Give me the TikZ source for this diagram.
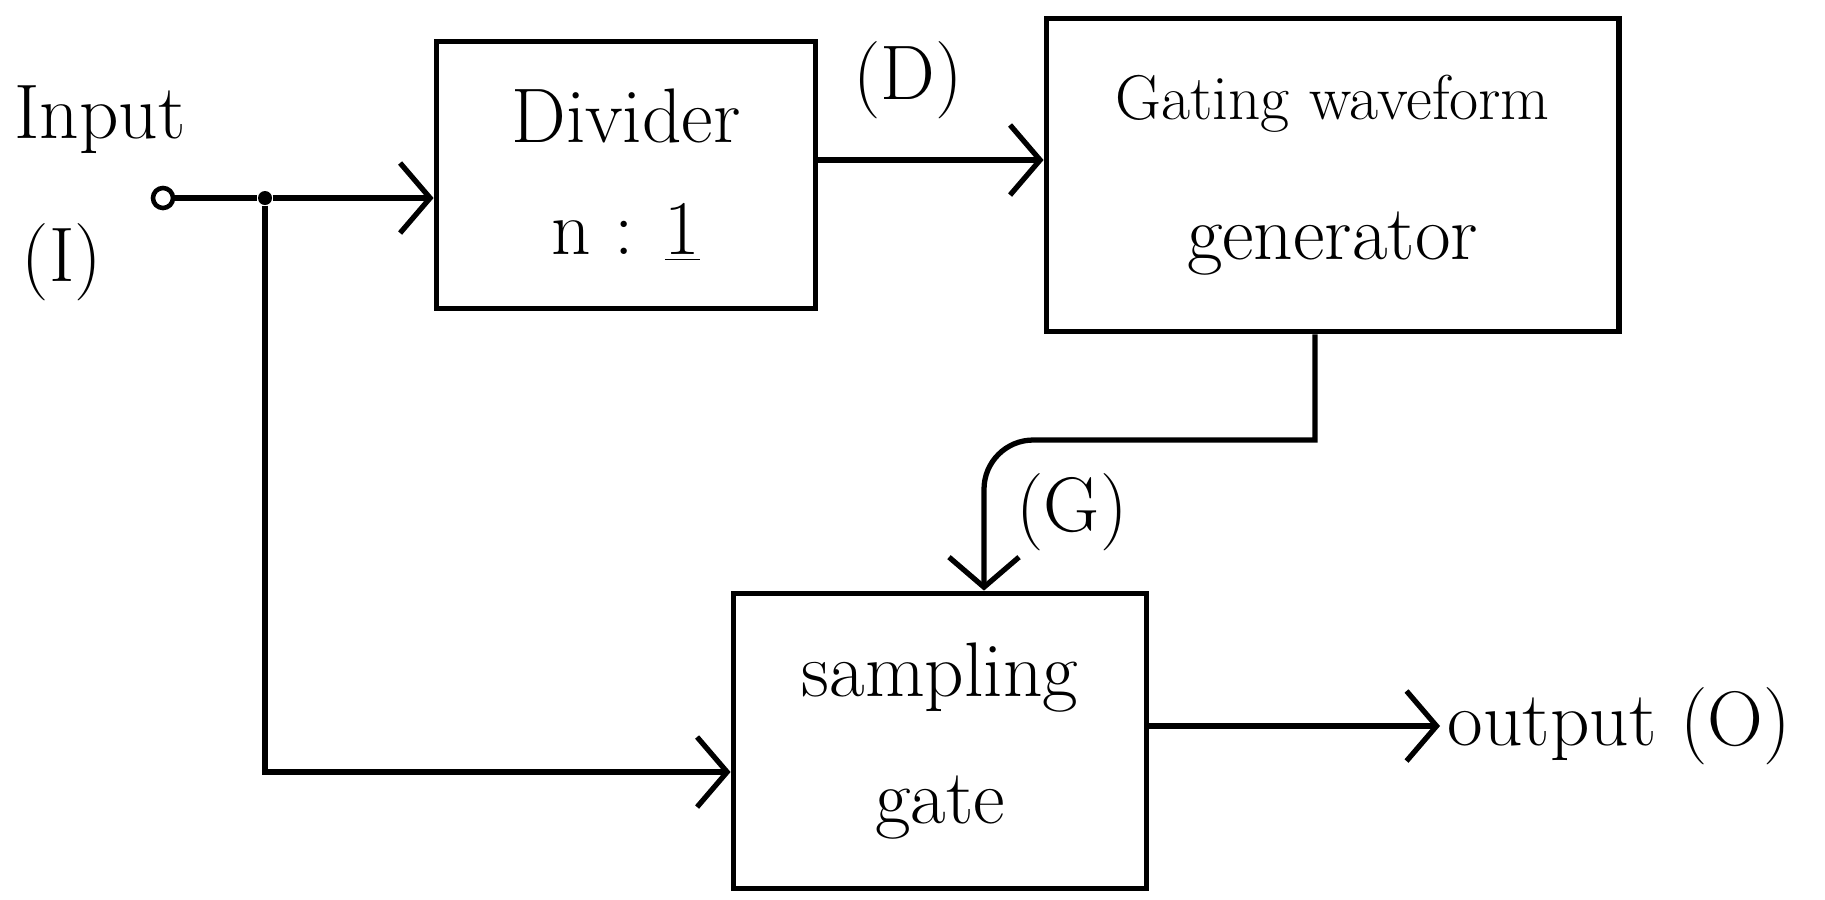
\documentclass[tikz,border=0pt]{standalone}
\usepackage{tikz}
\usetikzlibrary{positioning,arrows.meta,calc}

\begin{document}
\begin{tikzpicture}[x=0.01cm,y=-0.01cm,
  font=\fontsize{22}{26}\selectfont,
  blk/.style={draw,line width=1.6pt,align=center,inner sep=4pt},
  wire/.style={line width=1.5pt},
  arr/.style={wire,-{Straight Barb[length=3mm,width=7mm,line width=1.5pt]}},
  lbl/.style={inner sep=2pt}]
  \useasboundingbox (0,0) rectangle (1825,899);
  \node[blk,minimum width=3.79cm,minimum height=2.67cm] (div) at (626,175) {Divider\\[6pt] n : \underline{1}};
  \node[blk,right=2.25cm of div,minimum width=5.72cm,minimum height=3.13cm] (gen) {{\fontsize{18}{22}\selectfont Gating waveform}\\[14pt] generator};
  \node[blk,minimum width=4.13cm,minimum height=2.95cm] (gate) at (940,741) {sampling\\[10pt] gate};
  \node[circle,draw,line width=1.3pt,minimum size=0.2cm,inner sep=0pt] (in) at (163,198) {};
  \node[circle,fill,inner sep=0pt,minimum size=0.14cm] (jn) at (265,198) {};
  \coordinate (tap) at (1315,440);
  \coordinate (drop) at (984,440);
  \coordinate (bend) at (265,772);

  \node[lbl] (inlbl) at (100,120) {Input};
  \node[lbl] (ilbl) at (62,262) {(I)};
  \node[lbl] (dlbl) at (908,80) {(D)};
  \node[lbl] (glbl) at (1072,512) {(G)};
  \node[lbl,anchor=west] (out) at (1440,726) {output (O)};

  \draw[wire] (in) -- (jn);
  \draw[arr] (jn) -- (jn -| div.west);
  \draw[arr] ($(div.east)+(0,-15)$) -- ($(gen.west)+(0,-15)$);
  \draw[arr] (gen.south -| tap) -- (tap) [rounded corners=14pt] -- (drop) -- (drop |- gate.north);
  \draw[arr] (jn) -- (bend) -- (bend -| gate.west);
  \draw[arr] (gate.east |- out.west) -- (out.west);
\end{tikzpicture}
\end{document}
